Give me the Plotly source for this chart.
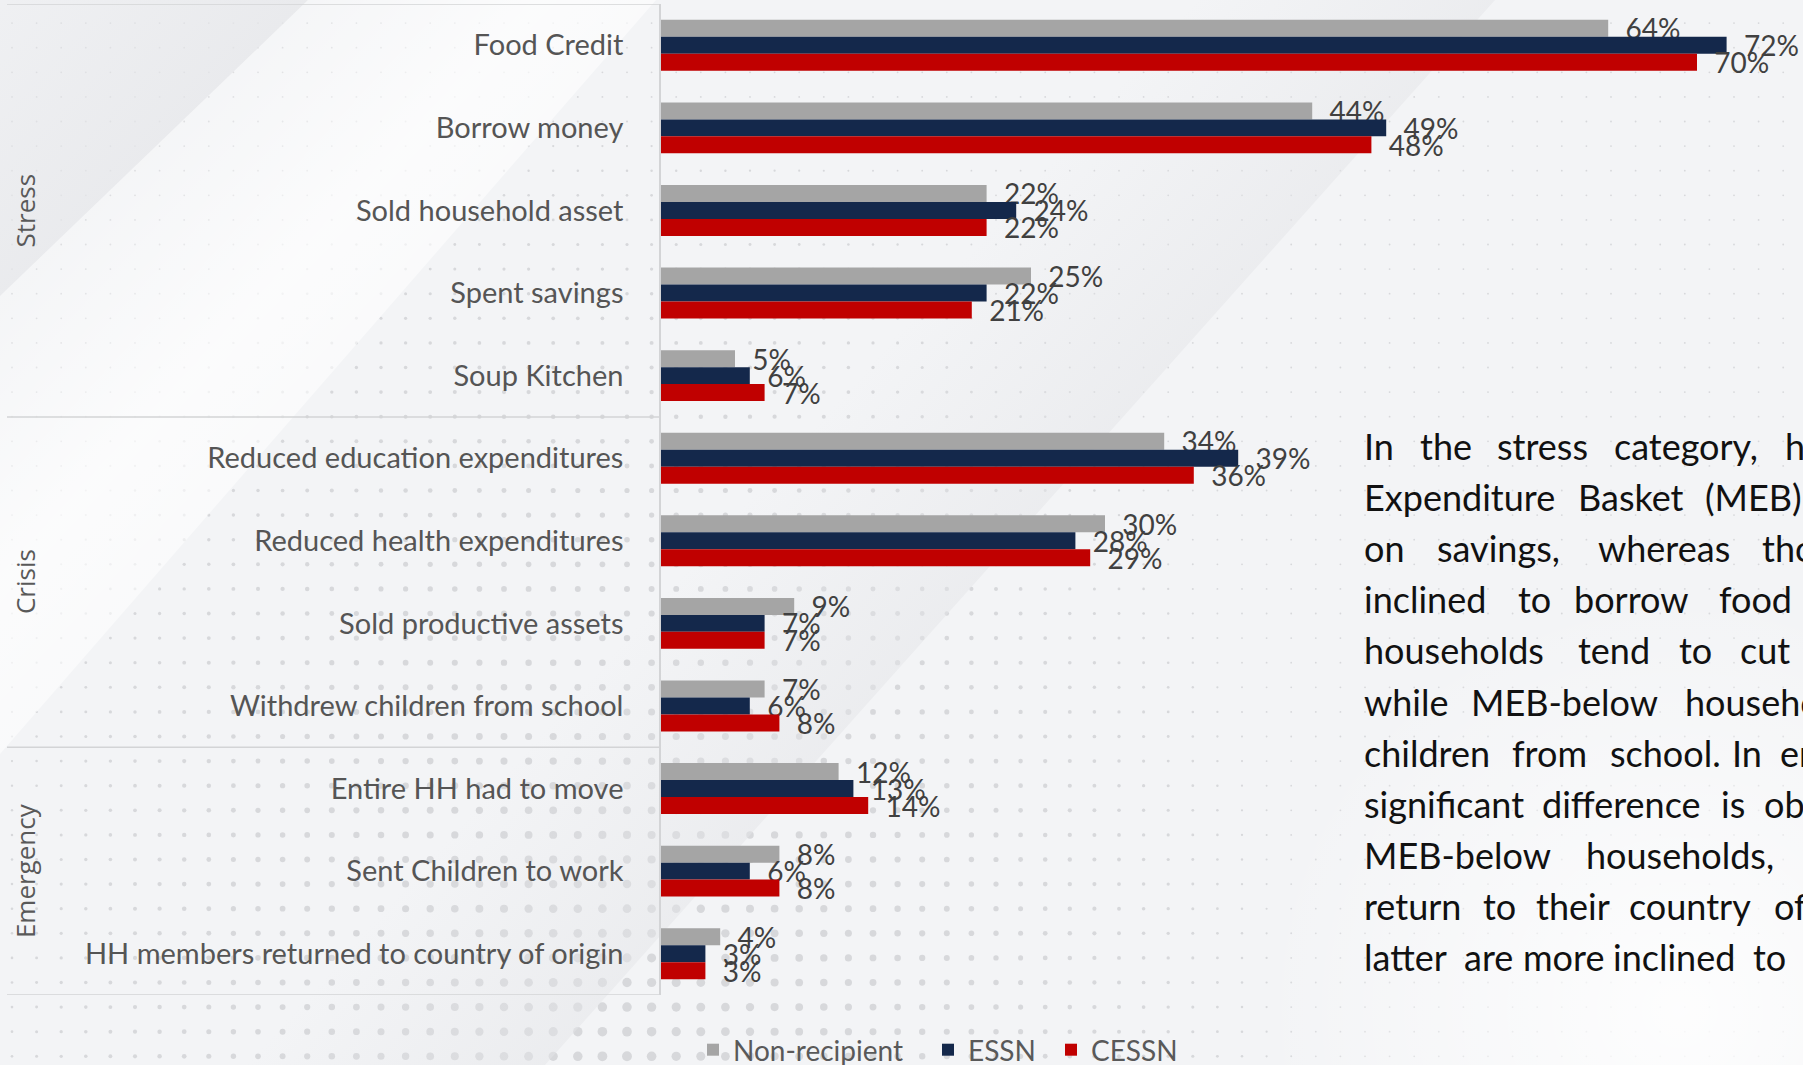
import base64
import math
import plotly.graph_objects as go

# ---- data -------------------------------------------------------------
categories = [
    "Food Credit", "Borrow money", "Sold household asset", "Spent savings",
    "Soup Kitchen", "Reduced education expenditures", "Reduced health expenditures",
    "Sold productive assets", "Withdrew children from school", "Entire HH had to move",
    "Sent Children to work", "HH members returned to country of origin",
]
non_recipient = [64, 44, 22, 25, 5, 34, 30, 9, 7, 12, 8, 4]
essn = [72, 49, 24, 22, 6, 39, 28, 7, 6, 13, 6, 3]
cessn = [70, 48, 22, 21, 7, 36, 29, 7, 8, 14, 8, 3]

series_names = ["Non-recipient", "ESSN", "CESSN"]
series_colors = ["#A5A5A5", "#14284B", "#C00000"]

groups = ["Stress", "Crisis", "Emergency"]
group_centers = [2, 6.5, 10]          # middle category index of each group
group_bounds = [-0.5, 4.5, 8.5, 11.5]  # separators between groups

# side commentary, line by line (justified text: each word gets its own start)
para_words = [
    ["In", "the", "stress", "category,", "households"],
    ["Expenditure", "Basket", "(MEB)"],
    ["on", "savings,", "whereas", "those"],
    ["inclined", "to", "borrow", "food"],
    ["households", "tend", "to", "cut"],
    ["while", "MEB-below", "households"],
    ["children", "from", "school.", "In", "emergency"],
    ["significant", "difference", "is", "observed"],
    ["MEB-below", "households,"],
    ["return", "to", "their", "country", "of"],
    ["latter", "are", "more", "inclined", "to"],
]
para_x = [
    [1362, 1418, 1495, 1612, 1783],
    [1362, 1576, 1703],
    [1362, 1435, 1596, 1760],
    [1362, 1516, 1572, 1717],
    [1362, 1576, 1677, 1738],
    [1362, 1469, 1683],
    [1362, 1510, 1608, 1730, 1778],
    [1362, 1540, 1719, 1762],
    [1362, 1584],
    [1362, 1481, 1534, 1627, 1772],
    [1362, 1462, 1508, 1584, 1751],
]
PARA_SIZE = 36

# ---- page geometry ------------------------------------------------------
W, H = 1803, 1065
ML, MT, MB = 661, 4, 70
PW, PH = W - ML, H - MT - MB


def px_x(px):
    return (px - ML) / PW


def px_y(py):
    return (MT + PH - py) / PH


# rough advance widths (em) of the paragraph face, used to keep words apart
_ADV = {
    "a": .508, "b": .561, "c": .468, "d": .561, "e": .527, "f": .323, "g": .500,
    "h": .561, "i": .240, "j": .240, "k": .505, "l": .240, "m": .830, "n": .561,
    "o": .561, "p": .553, "q": .561, "r": .370, "s": .425, "t": .355, "u": .561,
    "v": .505, "w": .770, "x": .500, "y": .505, "z": .455, "E": .570, "B": .640,
    "M": .890, "I": .280, ",": .230, ".": .230, "(": .300, ")": .300, "-": .350,
}


def word_width(w, size):
    return sum(_ADV.get(ch, .55) for ch in w) * size


def place_words(words, starts, size, min_gap=8):
    out, prev_end = [], None
    for w, x in zip(words, starts):
        if prev_end is not None and x < prev_end + min_gap:
            x = prev_end + min_gap
        out.append(x)
        prev_end = x + word_width(w, size)
    return out


# ---- slide background (tone bands + halftone dots) ---------------------
def background_svg():
    s = [f'<svg xmlns="http://www.w3.org/2000/svg" width="{W}" height="{H}" viewBox="0 0 {W} {H}">']
    s.append(
        '<defs>'
        '<linearGradient id="band" gradientUnits="userSpaceOnUse" x1="150" y1="150" x2="420" y2="400">'
        '<stop offset="0" stop-color="#ffffff" stop-opacity="0.15"/>'
        '<stop offset="0.5" stop-color="#ffffff" stop-opacity="0.7"/>'
        '<stop offset="1" stop-color="#ffffff" stop-opacity="0.45"/></linearGradient>'
        '<linearGradient id="wedge" gradientUnits="userSpaceOnUse" x1="0" y1="0" x2="160" y2="150">'
        '<stop offset="0" stop-color="#e6e7ea" stop-opacity="0.3"/>'
        '<stop offset="1" stop-color="#e6e7ea" stop-opacity="0.75"/></linearGradient>'
        '<linearGradient id="ribbon" gradientUnits="userSpaceOnUse" x1="1195" y1="0" x2="1362" y2="149">'
        '<stop offset="0" stop-color="#e4e5e8" stop-opacity="0"/>'
        '<stop offset="1" stop-color="#e4e5e8" stop-opacity="0.5"/></linearGradient>'
        '<radialGradient id="glow" gradientUnits="userSpaceOnUse" cx="1680" cy="1010" r="420">'
        '<stop offset="0" stop-color="#ffffff" stop-opacity="0.85"/>'
        '<stop offset="1" stop-color="#ffffff" stop-opacity="0"/></radialGradient>'
        '</defs>'
    )
    s.append(f'<rect width="{W}" height="{H}" fill="#f3f4f6"/>')
    step = 24.6
    j = 0
    while True:
        y = -1.5 + j * step
        if y > H + 6:
            break
        i = 0
        while True:
            x = 12 + i * step
            if x > W + 6:
                break
            d = math.hypot(x - 620, 0.7 * (y - 1065))
            r = max(0.9, (10.0 - 0.012 * d) / 2.0)
            s.append(f'<circle cx="{x:.1f}" cy="{y:.1f}" r="{r:.2f}" fill="#d7d8db"/>')
            i += 1
        j += 1
    s.append('<polygon points="0,0 308,0 0,296" fill="url(#wedge)"/>')
    s.append('<polygon points="308,0 656,0 0,754 0,296" fill="url(#band)"/>')
    s.append('<polygon points="1195,0 1495,0 545,1065 245,1065" fill="url(#ribbon)"/>')
    s.append(f'<rect width="{W}" height="{H}" fill="url(#glow)"/>')
    s.append('</svg>')
    return "data:image/svg+xml;base64," + base64.b64encode("".join(s).encode()).decode()


# ---- figure ------------------------------------------------------------
fig = go.Figure()
series_values = [non_recipient, essn, cessn]
for k, (name, vals, col) in enumerate(zip(series_names, series_values, series_colors)):
    fig.add_trace(go.Bar(
        y=categories, x=vals, name=name, orientation="h",
        marker=dict(color=col, line=dict(width=0)),
        texttemplate="\u00a0\u00a0%{x}%", textposition="outside",
        constraintext="none", cliponaxis=False,
        textfont=dict(family="Lato", size=28, color="#404040"),
        hoverinfo="skip",
        legend="legend" if k == 0 else f"legend{k + 1}",
    ))

# separators of the Stress / Crisis / Emergency blocks
shapes = []
for b in group_bounds:
    shapes.append(dict(type="line", xref="paper", yref="y", x0=px_x(7), x1=0, y0=b, y1=b,
                       line=dict(color="#d3d4d6", width=1.5), layer="below"))

annotations = []
for g, c in zip(groups, group_centers):
    annotations.append(dict(
        text=g, xref="paper", yref="y", x=px_x(25), y=c, textangle=-90,
        showarrow=False, xanchor="center", yanchor="middle",
        font=dict(family="Open Sans", size=26, color="#595959"),
    ))

# commentary paragraph
LINE0, LINE_STEP = 446.0, 51.1
for li, (words, xs) in enumerate(zip(para_words, para_x)):
    yc = LINE0 + li * LINE_STEP
    for wtxt, xp in zip(words, place_words(words, xs, PARA_SIZE)):
        annotations.append(dict(
            text=wtxt, xref="paper", yref="paper", x=px_x(xp), y=px_y(yc),
            xanchor="left", yanchor="middle", showarrow=False,
            font=dict(family="Lato", size=PARA_SIZE, color="#111111"),
        ))

legend_px = [693, 928, 1051]
legend_common = dict(orientation="h", yanchor="middle", xanchor="left",
                     bgcolor="rgba(0,0,0,0)", borderwidth=0,
                     font=dict(family="Lato", size=28, color="#595959"))
legends = {}
for k, lx in enumerate(legend_px):
    key = "legend" if k == 0 else f"legend{k + 1}"
    legends[key] = dict(x=px_x(lx), y=px_y(1050), **legend_common)

fig.update_layout(
    width=W, height=H,
    template="none",
    margin=dict(l=ML, r=0, t=MT, b=MB, pad=0, autoexpand=False),
    paper_bgcolor="#f3f4f6", plot_bgcolor="rgba(0,0,0,0)",
    barmode="group", bargap=0.383, bargroupgap=0,
    xaxis=dict(range=[0, PW / 14.8], visible=False, showgrid=False, zeroline=False, fixedrange=True),
    yaxis=dict(
        categoryorder="array", categoryarray=categories, range=[11.5, -0.5],
        showgrid=False, zeroline=False, ticks="", showline=True,
        linecolor="#d3d4d6", linewidth=1.5, ticklabelstandoff=30,
        tickfont=dict(family="Lato", size=29, color="#555555"), fixedrange=True,
    ),
    shapes=shapes, annotations=annotations,
    images=[dict(source=background_svg(), xref="paper", yref="paper",
                 x=px_x(0), y=px_y(0), sizex=W / PW, sizey=H / PH,
                 xanchor="left", yanchor="top", sizing="stretch", layer="below")],
    showlegend=True,
    **legends,
)

fig.write_html("out.html")
